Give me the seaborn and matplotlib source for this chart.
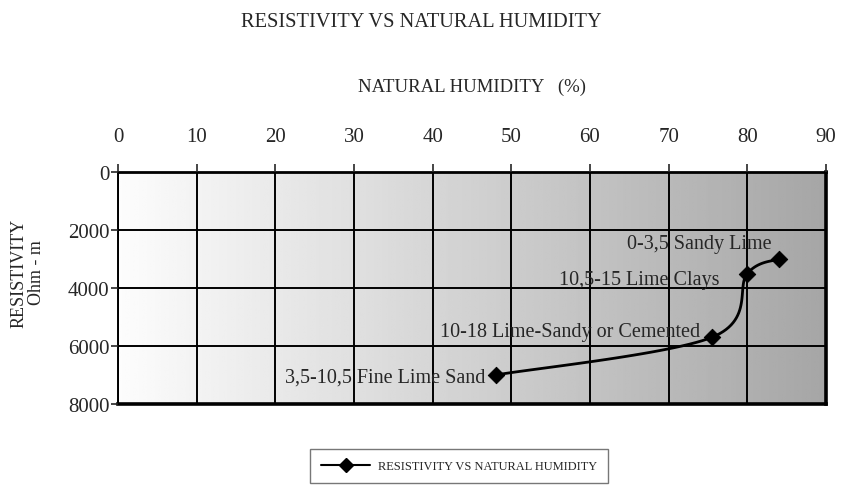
import numpy as np
import pandas as pd
import seaborn as sns
from matplotlib import pyplot as plt
from matplotlib.lines import Line2D

# data
humidity = [48, 75.5, 80, 84]
resistivity = [7000, 5700, 3500, 3000]
labels = ["3,5-10,5 Fine Lime Sand", "10-18 Lime-Sandy or Cemented",
          "10,5-15 Lime Clays", "0-3,5 Sandy Lime"]
x_ticks = list(range(0, 100, 10))
y_ticks = [0, 2000, 4000, 6000, 8000]

df = pd.DataFrame({"humidity": humidity, "resistivity": resistivity})


def smooth_curve(x, y, n=30):
    """Catmull-Rom smoothing like the spreadsheet 'smoothed line' option."""
    x = np.asarray(x, float)
    y = np.asarray(y, float)
    px = np.concatenate([[x[0]], x, [x[-1]]])
    py = np.concatenate([[y[0]], y, [y[-1]]])
    xs, ys = [], []
    t = np.linspace(0, 1, n)
    for i in range(1, len(px) - 2):
        for arr, out in ((px, xs), (py, ys)):
            p0, p1, p2, p3 = arr[i - 1], arr[i], arr[i + 1], arr[i + 2]
            out.extend(0.5 * ((2 * p1) + (-p0 + p2) * t
                              + (2 * p0 - 5 * p1 + 4 * p2 - p3) * t ** 2
                              + (-p0 + 3 * p1 - 3 * p2 + p3) * t ** 3))
    return np.array(xs), np.array(ys)


sns.set_style("white")
plt.rcParams['font.family'] = ['Liberation Serif', 'DejaVu Serif']

fig = plt.figure(figsize=(8.42, 4.89), dpi=100)
ax = fig.add_axes([118 / 842, 1 - 405 / 489, 708 / 842, 232 / 489])

# gradient background
grad = np.linspace(0.99, 0.65, 256).reshape(1, -1)
ax.imshow(grad, cmap="gray", vmin=0, vmax=1, aspect="auto",
          extent=[0, 1, 0, 1], transform=ax.transAxes, zorder=0)

ax.set_xlim(0, 90)
ax.set_ylim(8000, 0)
ax.set_xticks(x_ticks)
ax.set_yticks(y_ticks)
ax.grid(True, color="black", linewidth=1.4, zorder=1)
ax.set_axisbelow(False)

sx, sy = smooth_curve(df["humidity"], df["resistivity"])
ax.plot(sx, sy, color="black", linewidth=2, zorder=3)
sns.scatterplot(data=df, x="humidity", y="resistivity", marker="D", s=70,
                color="black", edgecolor="black", ax=ax, zorder=4)

# point labels
label_pos = [(485, 378), (700, 332), (719, 281), (772, 245)]
for (px, py), lab in zip(label_pos, labels):
    xv = (px - 118) / 708 * 90
    yv = (py - 173) / 232 * 8000
    ax.text(xv, yv, lab, ha="right", va="center", fontsize=14.5, zorder=5)

ax.xaxis.tick_top()
ax.xaxis.set_label_position("top")
ax.tick_params(axis="x", top=True, bottom=False, direction="out", length=6,
               width=1.2, labelsize=15, pad=13)
ax.tick_params(axis="y", left=True, direction="out", length=5, width=1.2,
               labelsize=15, pad=1)
ax.set_xlabel("NATURAL HUMIDITY   (%)", fontsize=13.5)
ax.xaxis.set_label_coords(0.5, 1.0 + (173 - 92) / 232)
ax.set_ylabel("RESISTIVITY\nOhm - m", fontsize=13, linespacing=1.05)
ax.yaxis.set_label_coords(-(118 - 45) / 708, (405 - 273) / 232)
for name, s in ax.spines.items():
    s.set_color("black")
ax.spines["left"].set_linewidth(1.4)
ax.spines["top"].set_linewidth(2.0)
ax.spines["right"].set_linewidth(2.6)
ax.spines["bottom"].set_linewidth(2.6)

fig.suptitle("RESISTIVITY VS NATURAL HUMIDITY", fontsize=14.7, y=0.974)

# legend
handle = Line2D([], [], color="black", marker="D", markersize=7, linewidth=1.5)
leg = fig.legend([handle], ["RESISTIVITY VS NATURAL HUMIDITY"],
                 loc="center", bbox_to_anchor=(459 / 842, 1 - 467 / 489),
                 fontsize=8.9, frameon=True, fancybox=False, handlelength=4.0,
                 borderpad=0.9, handletextpad=0.6, borderaxespad=0)
leg.get_frame().set_edgecolor("#555555")
leg.get_frame().set_linewidth(1.0)

fig.savefig("out.png", dpi=100)
